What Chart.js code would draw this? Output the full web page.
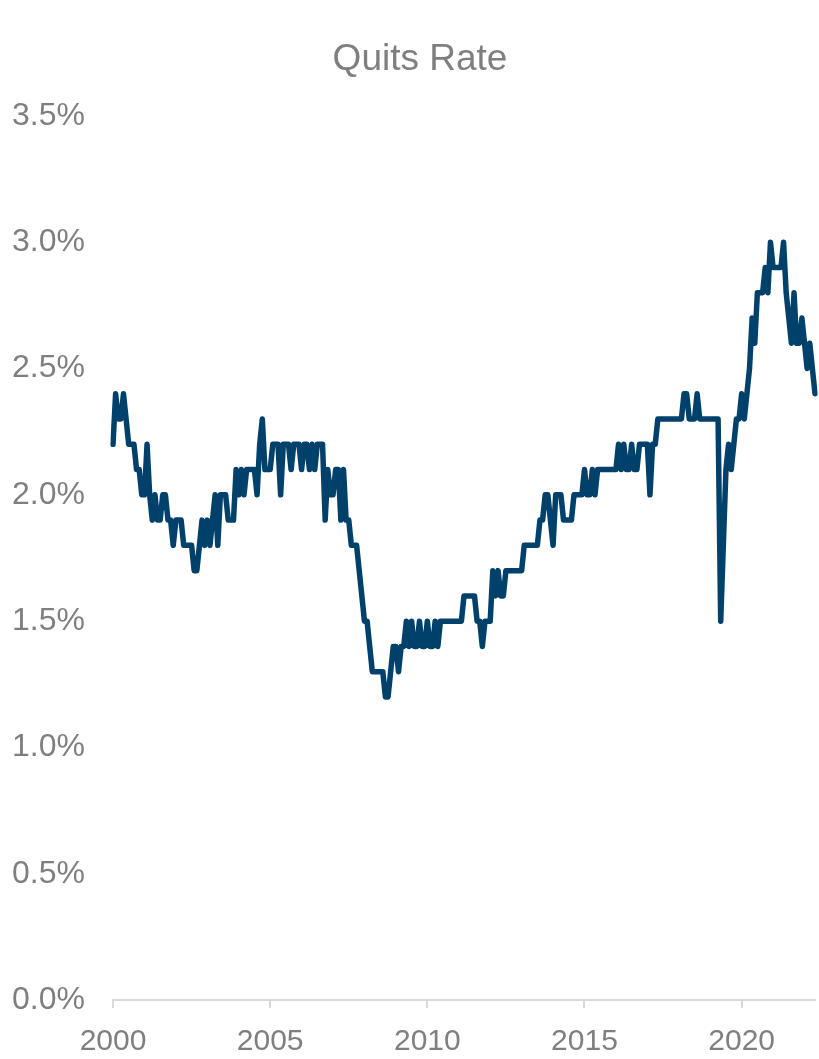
<!DOCTYPE html>
<html>
<head>
<meta charset="utf-8">
<title>Quits Rate</title>
<script src="https://cdn.jsdelivr.net/npm/chart.js@4.4.1/dist/chart.umd.min.js"></script>
<style>
  html, body { margin: 0; padding: 0; background: #ffffff; }
  #wrap { width: 819px; height: 1059px; }
</style>
</head>
<body>
<div id="wrap"><canvas id="quitsChart" width="819" height="1059"></canvas></div>
<script>
// monthly quits rate (%), first point is the one labelled 2000
const firstYear = 2000;
const quitsRate = [
  // 0-19
  2.2, 2.4, 2.3, 2.3, 2.4, 2.3, 2.2, 2.2, 2.2, 2.1, 2.1, 2.0, 2.0, 2.2, 2.0, 1.9, 2.0, 1.9, 1.9, 2.0,
  // 20-39
  2.0, 1.9, 1.9, 1.8, 1.9, 1.9, 1.9, 1.8, 1.8, 1.8, 1.8, 1.7, 1.7, 1.8, 1.9, 1.8, 1.9, 1.8, 1.9, 2.0,
  // 40-59
  1.8, 2.0, 2.0, 2.0, 1.9, 1.9, 1.9, 2.1, 2.0, 2.1, 2.0, 2.1, 2.1, 2.1, 2.1, 2.0, 2.2, 2.3, 2.1, 2.1,
  // 60-79
  2.1, 2.2, 2.2, 2.2, 2.0, 2.2, 2.2, 2.2, 2.1, 2.2, 2.2, 2.2, 2.1, 2.2, 2.2, 2.1, 2.2, 2.1, 2.2, 2.2,
  // 80-99
  2.2, 1.9, 2.1, 2.0, 2.0, 2.1, 2.1, 1.9, 2.1, 1.9, 1.9, 1.8, 1.8, 1.8, 1.7, 1.6, 1.5, 1.5, 1.4, 1.3,
  // 100-119
  1.3, 1.3, 1.3, 1.3, 1.2, 1.2, 1.3, 1.4, 1.4, 1.3, 1.4, 1.4, 1.5, 1.4, 1.5, 1.4, 1.4, 1.5, 1.4, 1.4,
  // 120-139
  1.5, 1.4, 1.4, 1.5, 1.4, 1.5, 1.5, 1.5, 1.5, 1.5, 1.5, 1.5, 1.5, 1.5, 1.6, 1.6, 1.6, 1.6, 1.6, 1.5,
  // 140-159
  1.5, 1.4, 1.5, 1.5, 1.5, 1.7, 1.6, 1.7, 1.6, 1.6, 1.7, 1.7, 1.7, 1.7, 1.7, 1.7, 1.7, 1.8, 1.8, 1.8,
  // 160-179
  1.8, 1.8, 1.8, 1.9, 1.9, 2.0, 2.0, 1.9, 1.8, 2.0, 2.0, 2.0, 1.9, 1.9, 1.9, 1.9, 2.0, 2.0, 2.0, 2.0,
  // 180-199
  2.1, 2.0, 2.0, 2.1, 2.0, 2.1, 2.1, 2.1, 2.1, 2.1, 2.1, 2.1, 2.1, 2.2, 2.1, 2.2, 2.1, 2.1, 2.2, 2.1,
  // 200-219
  2.1, 2.2, 2.2, 2.2, 2.2, 2.0, 2.2, 2.2, 2.3, 2.3, 2.3, 2.3, 2.3, 2.3, 2.3, 2.3, 2.3, 2.3, 2.4, 2.4,
  // 220-239
  2.3, 2.3, 2.3, 2.4, 2.3, 2.3, 2.3, 2.3, 2.3, 2.3, 2.3, 2.3, 1.5, 1.8, 2.1, 2.2, 2.1, 2.2, 2.3, 2.3,
  // 240-259
  2.4, 2.3, 2.4, 2.5, 2.7, 2.6, 2.8, 2.8, 2.8, 2.9, 2.8, 3.0, 2.9, 2.9, 2.9, 2.9, 3.0, 2.8, 2.7, 2.6,
  // 260-268
  2.8, 2.6, 2.6, 2.7, 2.6, 2.5, 2.6, 2.5, 2.4
];
const tickEvery = 60; // one labelled tick every 5 years
const yMin = 0;
const yMax = 3.5;
const yStep = 0.5;
const chartTitle = 'Quits Rate';

// one category per month, labelled with its axis year
const labels = quitsRate.map((v, i) => String(firstYear + Math.floor(i / 12)));

const grey = '#7f7f7f';
const lineBlue = '#00416c';
const fontFamily = 'Liberation Sans, Arial, sans-serif';

// title sits a little left of the plot centre, so draw it ourselves
const titlePlugin = {
  id: 'quitsTitle',
  afterDraw: (chart) => {
    const ctx = chart.ctx;
    ctx.save();
    ctx.font = '37px ' + fontFamily;
    ctx.fillStyle = grey;
    ctx.textAlign = 'center';
    ctx.textBaseline = 'middle';
    ctx.fillText(chartTitle, 420, 60);
    ctx.restore();
  }
};

const config = {
  type: 'line',
  data: {
    labels: labels,
    datasets: [{
      label: chartTitle,
      data: quitsRate,
      borderColor: lineBlue,
      borderWidth: 5.5,
      pointRadius: 0,
      tension: 0,
      borderJoinStyle: 'round',
      borderCapStyle: 'round',
      fill: false
    }]
  },
  options: {
    responsive: false,
    animation: false,
    layout: {
      padding: { left: 0, right: 4, top: 116, bottom: 0 }
    },
    plugins: {
      legend: { display: false },
      tooltip: { enabled: false },
      title: { display: false }
    },
    scales: {
      x: {
        type: 'category',
        offset: false,
        grid: {
          display: true,
          drawOnChartArea: false,
          drawTicks: true,
          tickLength: 8,
          color: '#d9d9d9',
          lineWidth: 2
        },
        border: { display: true, color: '#d9d9d9', width: 2 },
        ticks: {
          autoSkip: false,
          maxRotation: 0,
          color: grey,
          padding: 16,
          font: { family: fontFamily, size: 30 },
          callback: function (value, index) {
            return index % tickEvery === 0 ? this.getLabelForValue(value) : null;
          }
        },
        afterFit: function (scale) { scale.height = 59; }
      },
      y: {
        min: yMin,
        max: yMax,
        grid: { display: false, drawTicks: false },
        border: { display: false },
        ticks: {
          stepSize: yStep,
          color: grey,
          padding: 28,
          font: { family: fontFamily, size: 32 },
          callback: (v) => v.toFixed(1) + '%'
        },
        afterFit: function (scale) { scale.width = 113; }
      }
    }
  },
  plugins: [titlePlugin]
};

const myChart = new Chart(document.getElementById('quitsChart'), config);
</script>
</body>
</html>
